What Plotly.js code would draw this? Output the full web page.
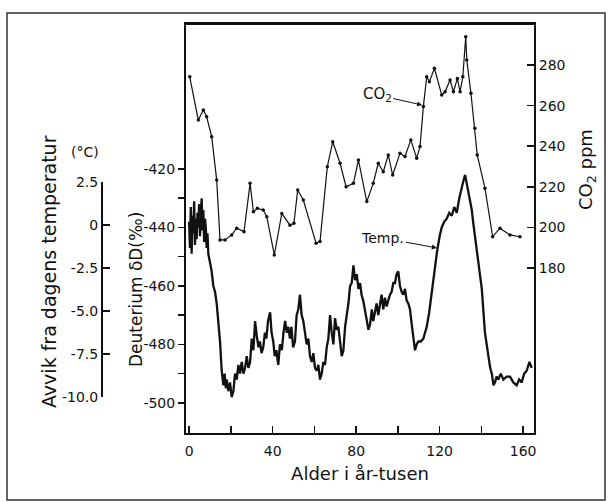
<!DOCTYPE html>
<html>
<head>
<meta charset="utf-8">
<script src="https://cdn.plot.ly/plotly-3.0.1.min.js"></script>
<style>html,body{margin:0;padding:0;background:#fff;}#chart{width:612px;height:502px;}</style>
</head>
<body>
<div id="chart"></div>
<script>
// CO2 (ppm) versus age (thousand years)
const co2Age = [0.3,4.4,6.8,8.4,10.8,13.2,14.8,17.2,20.4,22.8,26.3,29.2,30.8,32.7,35.5,37.2,40.8,44.4,48.3,50.2,52.0,54.7,60.8,62.7,66.2,68.8,72.3,75.2,78.7,81.1,85.1,88.2,90.6,93.0,95.4,97.5,101.0,103.4,106.2,109.0,110.6,112.2,113.8,115.1,117.5,121.0,122.6,125.0,126.6,128.5,129.8,131.1,132.5,133.0,135.0,136.9,138.0,141.7,145.4,148.9,153.7,158.5];
const co2Ppm = [274.2,252.9,257.8,254.5,244.7,223.4,193.8,193.8,196.3,199.6,197.9,221.7,207.7,209.4,208.6,205.3,186.4,206.9,201.1,202.0,218.4,213.5,192.2,193.0,229.9,242.2,231.6,220.0,221.7,233.2,212.7,221.7,231.6,227.4,235.7,225.8,236.5,234.9,243.1,234.1,239.8,259.5,274.2,271.8,278.4,265.2,266.8,272.6,266.8,273.4,266.8,274.2,293.9,282.5,266.1,248.8,235.7,219.3,195.4,199.6,196.3,195.4];

// Deuterium dD (per mil) versus age (thousand years)
const tempAge = [0.0,0.4,0.8,1.2,1.6,2.0,2.4,2.8,3.2,3.6,4.0,4.4,4.8,5.2,5.6,6.0,6.4,6.8,7.2,7.6,8.0,8.4,8.8,9.2,10.0,10.8,11.6,12.4,13.2,14.0,14.8,15.6,16.4,17.0,17.6,18.0,18.8,19.6,20.4,21.2,22.0,22.8,23.6,24.4,25.2,26.0,26.8,27.6,28.4,29.2,30.0,30.8,31.6,32.4,33.2,33.9,34.7,35.5,36.3,37.0,37.8,38.8,39.5,40.3,41.0,41.8,42.7,43.5,44.4,45.2,46.0,46.8,47.5,48.3,49.0,49.8,50.7,51.5,52.3,53.1,53.9,54.7,55.5,56.3,57.1,57.9,58.7,59.5,60.3,61.1,61.9,62.7,63.5,64.3,65.1,65.9,66.7,67.5,68.3,69.1,69.9,70.7,71.5,72.3,73.1,73.9,74.7,75.5,76.3,77.1,77.9,78.7,79.5,80.3,81.1,81.9,82.6,83.4,84.2,85.1,85.9,86.7,87.5,88.2,89.0,89.8,90.6,91.4,92.2,93.0,93.8,94.6,95.4,96.2,97.0,97.8,98.6,99.4,100.2,101.0,101.8,102.6,103.4,104.2,105.0,105.8,106.6,107.4,108.2,109.0,109.8,111.0,112.2,113.0,113.8,115.0,116.2,117.4,118.8,120.0,121.0,122.2,123.4,124.6,125.8,127.0,128.2,129.4,130.6,131.4,132.2,133.0,133.7,134.5,135.4,136.2,136.9,138.5,140.2,141.7,142.5,143.3,144.2,145.0,145.8,146.5,147.3,148.1,149.3,150.5,152.1,153.7,155.3,156.9,158.1,159.3,160.5,161.7,163.0,164.1];
const tempD = [-438,-447,-433,-449,-436,-442,-431,-446,-437,-444,-435,-440,-432,-443,-436,-430,-441,-434,-445,-437,-440,-447,-442,-449,-452,-455,-460,-462,-466,-472,-479,-489,-494,-490,-495,-492,-496,-493,-498,-496,-490,-492,-487,-490,-486,-490,-488,-484,-488,-486,-478,-482,-472,-477,-481,-479,-483,-481,-476,-478,-472,-469,-476,-479,-484,-482,-487,-480,-482,-476,-472,-476,-474,-478,-474,-481,-479,-470,-468,-463,-470,-472,-476,-480,-478,-484,-486,-483,-488,-489,-487,-492,-490,-486,-487,-481,-478,-470,-476,-480,-471,-475,-474,-479,-484,-482,-474,-470,-466,-460,-459,-453,-458,-456,-461,-459,-463,-465,-468,-471,-475,-473,-468,-472,-469,-466,-470,-466,-463,-468,-464,-467,-465,-463,-462,-459,-459,-456,-455,-460,-462,-463,-461,-465,-466,-468,-473,-478,-482,-480,-479,-479,-478,-476,-474,-469,-462,-457,-448,-443,-440,-438,-437,-435,-436,-433,-435,-430,-426,-424,-422,-425,-427,-430,-434,-439,-443,-451,-461,-476,-480,-485,-488,-490,-494,-493,-491,-492,-490,-492,-491,-491,-493,-494,-492,-493,-490,-489,-486,-488];

// Tick values and labels
const ageTicks = [0,40,80,120,160];
const ageMinor = [20,60,100,140];
const dTicks = [-500,-480,-460,-440,-420];
const dMinor = [-490,-470,-450,-430];
const co2Ticks = [180,200,220,240,260,280];
const tTicks = [2.5,0,-2.5,-5,-7.5,-10];
const tLabels = ['2.5','0','-2.5','-5.0','-7.5','-10.0'];

const FONT = 'DejaVu Sans, Liberation Sans, Arial, sans-serif';
const INK = '#111';

const traces = [
  {x: tempAge, y: tempD, type: 'scatter', mode: 'lines', xaxis: 'x', yaxis: 'y',
   line: {color: INK, width: 2.3}, hoverinfo: 'skip', showlegend: false},
  {x: co2Age, y: co2Ppm, type: 'scatter', mode: 'lines+markers', xaxis: 'x', yaxis: 'y2',
   line: {color: INK, width: 1.2}, marker: {color: INK, size: 3.5}, hoverinfo: 'skip', showlegend: false},
  {x: [null], y: [null], type: 'scatter', mode: 'lines', xaxis: 'x2', yaxis: 'y3',
   hoverinfo: 'skip', showlegend: false}
];

const layout = {
  width: 612, height: 502,
  margin: {l: 20, r: 20, t: 24, b: 69},
  paper_bgcolor: '#fff', plot_bgcolor: 'rgba(0,0,0,0)',
  font: {family: FONT, color: INK, size: 14},
  showlegend: false,
  xaxis: {
    domain: [0.2902, 0.8986], range: [-1.5, 165.2],
    tickmode: 'array', tickvals: ageTicks, ticktext: ageTicks.map(String),
    ticks: 'inside', ticklen: 7, tickwidth: 1.5, tickcolor: INK,
    minor: {tickvals: ageMinor, ticks: 'inside', ticklen: 7, tickwidth: 1.5, tickcolor: INK, showgrid: false},
    showline: true, linecolor: INK, linewidth: 2, mirror: true,
    showgrid: false, zeroline: false, ticklabelstandoff: 4,
    tickfont: {size: 14, family: FONT, color: INK},
    title: {text: 'Alder i år-tusen', font: {size: 18, family: FONT, color: INK}, standoff: 10}
  },
  yaxis: {
    domain: [0, 1], range: [-510.3, -370.4],
    tickmode: 'array', tickvals: dTicks, ticktext: dTicks.map(String),
    ticks: 'outside', ticklen: 6, tickwidth: 1.5, tickcolor: INK,
    minor: {tickvals: dMinor, ticks: 'outside', ticklen: 6, tickwidth: 1.5, tickcolor: INK, showgrid: false},
    showline: true, linecolor: INK, linewidth: 2,
    showgrid: false, zeroline: false,
    tickfont: {size: 14, family: FONT, color: INK}
  },
  yaxis2: {
    overlaying: 'y', side: 'right', anchor: 'x', range: [98.7, 300.2],
    tickmode: 'array', tickvals: co2Ticks, ticktext: co2Ticks.map(String),
    ticks: 'inside', ticklen: 7, tickwidth: 1.5, tickcolor: INK,
    showline: true, linecolor: INK, linewidth: 2,
    showgrid: false, zeroline: false,
    tickfont: {size: 14, family: FONT, color: INK}
  },
  xaxis2: {
    domain: [0.1451, 0.147], range: [0, 1], visible: false, anchor: 'y3'
  },
  yaxis3: {
    anchor: 'x2', side: 'left',
    domain: [0.088, 0.6137], range: [-10, 2.5],
    tickmode: 'array', tickvals: tTicks, ticktext: tLabels,
    ticks: 'inside', ticklen: 7, tickwidth: 1.5, tickcolor: INK,
    showline: true, linecolor: INK, linewidth: 2,
    showgrid: false, zeroline: false,
    tickfont: {size: 14, family: FONT, color: INK}
  },
  shapes: [
    {type: 'rect', xref: 'paper', yref: 'paper', x0: -0.0227, x1: 1.0227, y0: -0.1638, y1: 1.0269,
     line: {color: '#333', width: 1.5}, fillcolor: 'rgba(0,0,0,0)', layer: 'below'},
    {type: 'line', xref: 'paper', yref: 'paper', x0: 0.2902, x1: 0.8986, y0: 1, y1: 1,
     line: {color: INK, width: 2}}
  ],
  annotations: [
    {xref: 'paper', yref: 'paper', x: 0.0507, y: 0.3936, text: 'Avvik fra dagens temperatur',
     textangle: -90, showarrow: false, xanchor: 'center', yanchor: 'middle',
     font: {size: 19, family: FONT, color: INK}},
    {xref: 'paper', yref: 'paper', x: 0.1136, y: 0.687, text: '(°C)',
     showarrow: false, xanchor: 'center', yanchor: 'middle',
     font: {size: 14, family: FONT, color: INK}},
    {xref: 'paper', yref: 'paper', x: 0.2028, y: 0.3496, text: 'Deuterium δD(‰)',
     textangle: -90, showarrow: false, xanchor: 'center', yanchor: 'middle',
     font: {size: 17, family: FONT, color: INK}},
    {xref: 'paper', yref: 'paper', x: 0.9913, y: 0.643, text: 'CO<sub>2</sub> ppm',
     textangle: -90, showarrow: false, xanchor: 'center', yanchor: 'middle',
     font: {size: 18, family: FONT, color: INK}},
    {xref: 'x', yref: 'y2', x: 111.6, y: 260.3, text: 'CO<sub>2</sub>',
     showarrow: true, arrowhead: 2, arrowsize: 1, arrowwidth: 1, arrowcolor: INK,
     ax: -45, ay: -10, font: {size: 15, family: FONT, color: INK}},
    {xref: 'x', yref: 'y', x: 118.7, y: -447.0, text: 'Temp.',
     showarrow: true, arrowhead: 2, arrowsize: 1, arrowwidth: 1, arrowcolor: INK,
     ax: -54, ay: -10, font: {size: 14, family: FONT, color: INK}}
  ]
};

Plotly.newPlot('chart', traces, layout, {staticPlot: true, displayModeBar: false});
</script>
</body>
</html>
